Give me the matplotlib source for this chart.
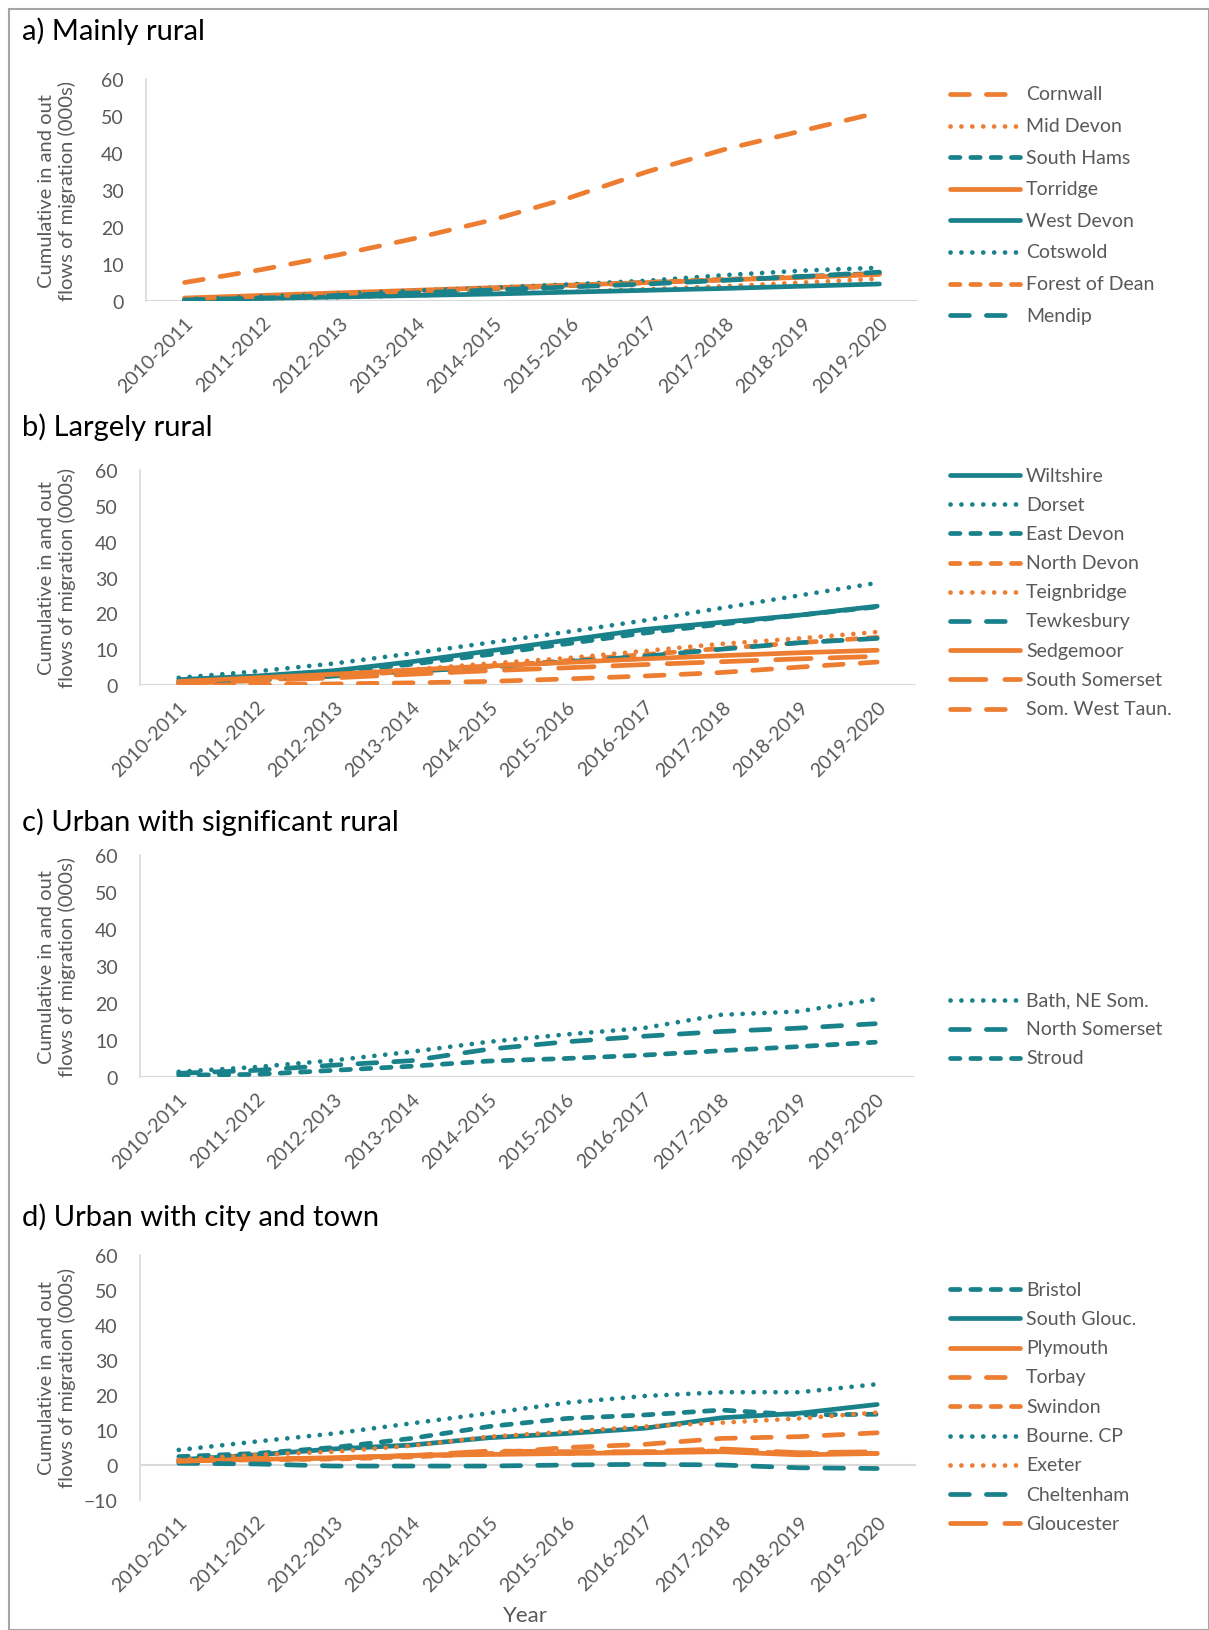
import numpy as np
import matplotlib
matplotlib.use("Agg")
import matplotlib.pyplot as plt
from matplotlib.patches import Rectangle

plt.rcParams['font.family'] = ['Lato', 'DejaVu Sans']

ORANGE = '#ED7D31'
TEAL = '#19818A'
GREY_TXT = '#595959'
GREY_AX = '#D9D9D9'

years = ['2010-2011', '2011-2012', '2012-2013', '2013-2014', '2014-2015',
         '2015-2016', '2016-2017', '2017-2018', '2018-2019', '2019-2020']

# --- a) Mainly rural ---
a_names = ['Cornwall', 'Mid Devon', 'South Hams', 'Torridge', 'West Devon',
           'Cotswold', 'Forest of Dean', 'Mendip']
cornwall = [5, 8.5, 12.5, 17, 22, 28, 35, 41, 46, 51]
mid_devon = [0.2, 0.6, 1.0, 1.5, 2.0, 2.5, 3.2, 4.0, 5.0, 6.0]
south_hams = [0.5, 1.2, 1.8, 2.5, 3.3, 4.2, 5.0, 5.8, 6.6, 7.5]
torridge = [0.8, 1.5, 2.2, 2.9, 3.6, 4.3, 5.0, 5.7, 6.4, 7.2]
west_devon = [0.3, 0.7, 1.1, 1.5, 1.9, 2.4, 2.9, 3.4, 4.0, 4.6]
cotswold = [0.5, 1.2, 2.0, 2.8, 3.6, 4.5, 5.5, 7.0, 8.2, 9.0]
forest_of_dean = [0.6, 1.3, 2.0, 2.7, 3.4, 4.2, 5.0, 5.8, 6.5, 7.3]
mendip = [0.3, 0.8, 1.5, 2.2, 3.0, 3.8, 4.6, 5.6, 6.6, 7.8]

# --- b) Largely rural ---
b_names = ['Wiltshire', 'Dorset', 'East Devon', 'North Devon', 'Teignbridge',
           'Tewkesbury', 'Sedgemoor', 'South Somerset', 'Som. West Taun.']
wiltshire = [1.5, 2.5, 4.0, 6.5, 9.5, 12.5, 15.5, 17.5, 19.5, 22.0]
dorset = [2.0, 3.8, 6.0, 8.8, 11.8, 14.8, 18.0, 21.5, 25.0, 28.5]
east_devon = [1.0, 2.0, 3.5, 5.8, 8.5, 11.5, 14.5, 17.0, 19.5, 21.8]
north_devon = [0.5, 1.3, 2.5, 3.8, 5.2, 6.8, 8.5, 10.2, 11.8, 13.3]
teignbridge = [0.8, 1.8, 3.0, 4.3, 6.0, 7.5, 9.5, 11.5, 13.0, 14.8]
tewkesbury = [0.5, 1.3, 2.5, 3.8, 5.0, 6.5, 8.0, 10.0, 11.8, 13.0]
sedgemoor = [1.0, 2.0, 3.0, 4.2, 5.3, 6.3, 7.3, 8.2, 9.0, 9.7]
south_somerset = [0.5, 1.2, 2.0, 3.0, 4.0, 4.8, 5.7, 6.5, 7.3, 8.0]
som_west_taun = [0.0, 0.1, 0.3, 0.6, 1.0, 1.7, 2.5, 3.5, 5.0, 6.4]

# --- c) Urban with significant rural ---
c_names = ['Bath, NE Som.', 'North Somerset', 'Stroud']
bath = [1.4, 2.7, 4.5, 6.8, 9.5, 11.5, 13.2, 16.8, 17.7, 21.0]
north_somerset = [1.0, 1.8, 3.2, 4.4, 7.5, 9.5, 11.0, 12.3, 13.2, 14.4]
stroud = [0.5, 0.7, 1.8, 2.9, 4.3, 5.0, 5.9, 7.1, 8.2, 9.4]

# --- d) Urban with city and town ---
d_names = ['Bristol', 'South Glouc.', 'Plymouth', 'Torbay', 'Swindon',
           'Bourne. CP', 'Exeter', 'Cheltenham', 'Gloucester']
bristol = [2.4, 3.3, 5.0, 7.6, 11.0, 13.3, 14.3, 15.7, 14.3, 14.5]
south_glouc = [1.5, 2.9, 4.6, 5.7, 7.8, 9.0, 10.5, 13.5, 14.8, 17.3]
plymouth = [1.1, 1.6, 2.1, 2.7, 3.0, 3.3, 3.5, 3.8, 2.9, 3.3]
torbay = [1.0, 1.4, 1.9, 2.7, 3.3, 5.0, 5.9, 7.6, 8.1, 9.2]
swindon = [1.2, 1.5, 1.7, 2.3, 3.3, 3.3, 3.8, 4.0, 3.3, 3.3]
bourne_cp = [4.3, 6.7, 9.0, 11.9, 14.8, 17.8, 19.7, 20.8, 20.8, 23.1]
exeter = [1.5, 2.9, 3.8, 5.5, 8.1, 9.5, 11.0, 12.1, 13.3, 15.0]
cheltenham = [0.5, 0.3, -0.3, -0.3, -0.3, 0.0, 0.2, 0.0, -0.8, -1.0]
gloucester = [1.0, 1.9, 1.9, 2.7, 4.0, 3.8, 3.8, 4.6, 3.5, 3.8]

# line dash patterns (in units of line width)
SOLID = '-'
DOT = (0, (0.01, 2.3))
SQDASH = (0, (2.0, 2.3))
DASH = (0, (4.0, 3.6))
LONGDASH = (0, (7.5, 4.0))

panels = [
    dict(title='a) Mainly rural', top=80, bottom=302, left=146, right=918,
         ylim=(0, 60), ticks=range(0, 61, 10), leg_top=95, leg_step=31.6,
         series=[(cornwall, ORANGE, DASH), (mid_devon, ORANGE, DOT),
                 (south_hams, TEAL, SQDASH), (torridge, ORANGE, SOLID),
                 (west_devon, TEAL, SOLID), (cotswold, TEAL, DOT),
                 (forest_of_dean, ORANGE, SQDASH), (mendip, TEAL, DASH)],
         names=a_names, title_y=31),
    dict(title='b) Largely rural', top=471, bottom=686, left=140, right=916,
         ylim=(0, 60), ticks=range(0, 61, 10), leg_top=476, leg_step=29.2,
         series=[(wiltshire, TEAL, SOLID), (dorset, TEAL, DOT),
                 (east_devon, TEAL, SQDASH), (north_devon, ORANGE, SQDASH),
                 (teignbridge, ORANGE, DOT), (tewkesbury, TEAL, DASH),
                 (sedgemoor, ORANGE, SOLID), (south_somerset, ORANGE, LONGDASH),
                 (som_west_taun, ORANGE, DASH)],
         names=b_names, title_y=427),
    dict(title='c) Urban with significant rural', top=856, bottom=1078,
         left=140, right=914, ylim=(0, 60), ticks=range(0, 61, 10),
         leg_top=1001, leg_step=29.0,
         series=[(bath, TEAL, DOT), (north_somerset, TEAL, DASH),
                 (stroud, TEAL, SQDASH)],
         names=c_names, title_y=822),
    dict(title='d) Urban with city and town', top=1256, bottom=1501,
         left=140, right=916, ylim=(-10, 60), ticks=range(-10, 61, 10),
         leg_top=1290, leg_step=29.3,
         series=[(bristol, TEAL, SQDASH), (south_glouc, TEAL, SOLID),
                 (plymouth, ORANGE, SOLID), (torbay, ORANGE, DASH),
                 (swindon, ORANGE, SQDASH), (bourne_cp, TEAL, DOT),
                 (exeter, ORANGE, DOT), (cheltenham, TEAL, DASH),
                 (gloucester, ORANGE, LONGDASH)],
         names=d_names, title_y=1217),
]

W, H = 1209, 1631
fig = plt.figure(figsize=(W / 100, H / 100), dpi=100)
fig.patches.append(Rectangle((9 / W, 0), (W - 9) / W, (H - 10) / H,
                             transform=fig.transFigure, fill=False,
                             edgecolor='#A6A6A6', lw=1.5))

LW = 3.4
x = np.arange(len(years))
for p in panels:
    ax = fig.add_axes([p['left'] / W, 1 - p['bottom'] / H,
                       (p['right'] - p['left']) / W,
                       (p['bottom'] - p['top']) / H])
    for (vals, col, ls), name in zip(p['series'], p['names']):
        ax.plot(x, vals, color=col, lw=LW, ls=ls, label=name,
                dash_capstyle='round', solid_capstyle='round')
    ax.set_xlim(-0.5, len(years) - 0.5)
    ax.set_ylim(*p['ylim'])
    ax.set_yticks(list(p['ticks']))
    ax.set_xticks(x)
    ax.set_xticklabels(years, rotation=45, ha='right', va='top',
                       rotation_mode='anchor')
    ax.tick_params(length=0, labelsize=14, colors=GREY_TXT)
    ax.tick_params(axis='y', pad=16)
    ax.tick_params(axis='x', pad=9)
    for s in ['top', 'right', 'bottom']:
        ax.spines[s].set_visible(False)
    ax.spines['left'].set_color(GREY_AX)
    ax.spines['left'].set_linewidth(1.2)
    ax.axhline(0, color=GREY_AX, lw=1.5, zorder=0)

    # legend drawn entry by entry at fixed pixel rows
    for i, ((vals, col, ls), name) in enumerate(zip(p['series'], p['names'])):
        yy = 1 - (p['leg_top'] + i * p['leg_step']) / H
        fig.add_artist(plt.Line2D([950 / W, 1020 / W], [yy, yy],
                                  color=col, lw=LW, ls=ls,
                                  dash_capstyle='round',
                                  solid_capstyle='round'))
        fig.text(1026 / W, yy, name, fontsize=14, color=GREY_TXT,
                 va='center', ha='left')

    fig.text(22 / W, 1 - p['title_y'] / H, p['title'], fontsize=21,
             color='black', va='center', ha='left')
    fig.text(57 / W, 1 - (p['top'] + p['bottom']) / 2 / H,
             'Cumulative in and out\nflows of migration (000s)',
             rotation=90, fontsize=14.5, color=GREY_TXT, va='center',
             ha='center', multialignment='center', linespacing=1.2)

fig.text(525 / W, 1 - 1616 / H, 'Year', fontsize=16, color=GREY_TXT,
         ha='center', va='center')

fig.savefig('out.png', dpi=100)
